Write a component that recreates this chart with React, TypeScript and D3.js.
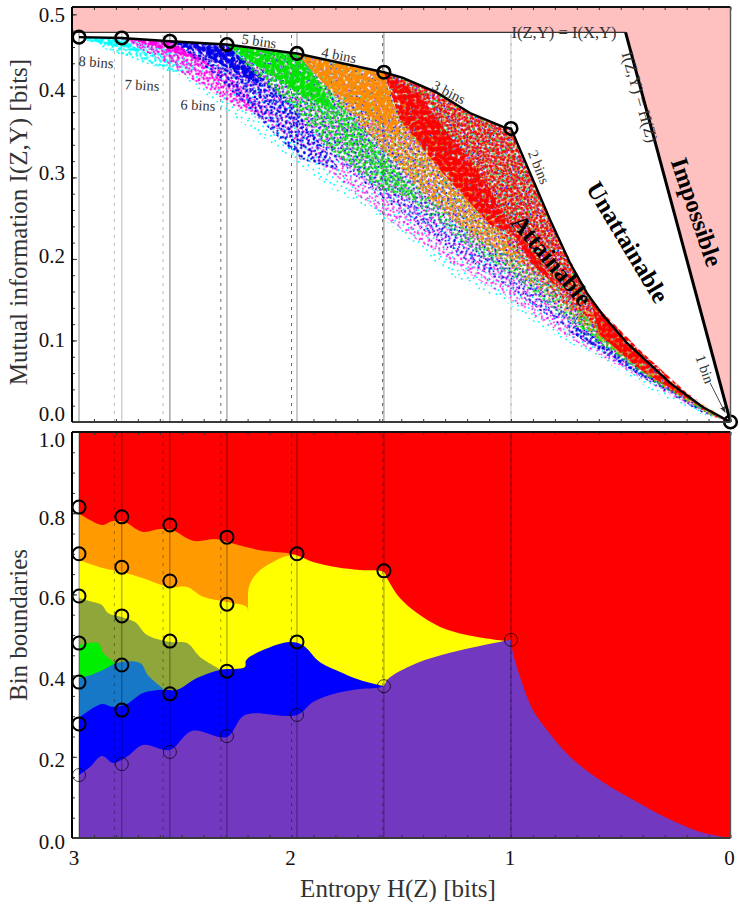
import { useEffect, useRef } from "react";
import * as d3 from "d3";

type Pt = [number, number];

// entropy of the optimal points for 8..2 bins
const binEntropy = [2.968, 2.773, 2.554, 2.294, 1.975, 1.579, 1.0];
const logBins = [2.807, 2.585, 2.322, 2.0, 1.585, 1.0];

// upper envelope of the attainable region [H, I]
const envelope: Pt[] = [
  [2.968, 0.472], [2.773, 0.471], [2.554, 0.467], [2.294, 0.463], [1.975, 0.452],
  [1.579, 0.429], [1.492, 0.422], [1.337, 0.404], [1.187, 0.379], [1.036, 0.362], [1.0, 0.36],
  [0.822, 0.248], [0.731, 0.195], [0.654, 0.158], [0.581, 0.131], [0.472, 0.097], [0.276, 0.048],
  [0.125, 0.018], [0, 0],
];
const optimalPoints: Pt[] = [
  [2.968, 0.472], [2.773, 0.471], [2.554, 0.467], [2.294, 0.463], [1.975, 0.452],
  [1.579, 0.429], [1.0, 0.36], [0, 0],
];
const ceilingI = 0.478;

// lower edge of each bin count's cloud [H, I]
const cyanLower: Pt[] = [
  [2.968, 0.472], [2.872, 0.459], [2.749, 0.447], [2.645, 0.438], [2.522, 0.428], [2.417, 0.405],
  [2.294, 0.379], [2.144, 0.352], [1.993, 0.321], [1.811, 0.285], [1.642, 0.26], [1.551, 0.242],
  [1.446, 0.22], [1.278, 0.18], [1.141, 0.162], [1.036, 0.15], [0.913, 0.125], [0.763, 0.101],
  [0.608, 0.08], [0.458, 0.055], [0.308, 0.031], [0.125, 0.009], [0, 0],
];
const magentaLower: Pt[] = [
  [2.773, 0.469], [2.554, 0.447], [2.294, 0.401], [1.993, 0.346], [1.733, 0.285], [1.506, 0.238],
  [1.278, 0.196], [1.036, 0.156], [0.763, 0.107], [0.458, 0.061], [0.139, 0.012], [0, 0],
];
const blueLower: Pt[] = [
  [2.554, 0.466], [2.294, 0.429], [1.993, 0.368], [1.733, 0.307], [1.506, 0.258], [1.278, 0.211],
  [1.005, 0.164], [0.731, 0.11], [0.412, 0.056], [0.139, 0.013], [0, 0],
];
const greenLower: Pt[] = [
  [2.294, 0.461], [1.993, 0.41], [1.733, 0.34], [1.506, 0.282], [1.187, 0.213], [0.959, 0.172],
  [0.686, 0.113], [0.367, 0.052], [0.116, 0.011], [0, 0],
];
const orangeLower: Pt[] = [
  [1.975, 0.45], [1.779, 0.395], [1.579, 0.334], [1.369, 0.272], [1.141, 0.217], [0.868, 0.16],
  [0.595, 0.101], [0.321, 0.045], [0.094, 0.009], [0, 0],
];
const redLower: Pt[] = [
  [1.579, 0.429], [1.415, 0.358], [1.187, 0.272], [0.959, 0.199], [0.731, 0.137], [0.503, 0.086],
  [0.276, 0.039], [0.084, 0.007], [0, 0],
];

// moderately filled parts of each cloud
const cyanMid: Pt[] = [[2.968, 0.472], [2.773, 0.471], [2.554, 0.456], [2.417, 0.432], [2.554, 0.429], [2.736, 0.448], [2.872, 0.46]];
const magentaMid: Pt[] = [[2.773, 0.471], [2.554, 0.467], [2.294, 0.426], [2.098, 0.377], [2.235, 0.383], [2.417, 0.414], [2.577, 0.442], [2.713, 0.461]];
const blueMid: Pt[] = [[2.554, 0.467], [2.294, 0.463], [2.053, 0.407], [1.779, 0.309], [1.961, 0.322], [2.144, 0.371], [2.349, 0.426], [2.463, 0.45]];
const greenMid: Pt[] = [[2.294, 0.463], [1.975, 0.452], [1.733, 0.377], [1.415, 0.272], [1.597, 0.285], [1.825, 0.334], [2.03, 0.395], [2.189, 0.432]];
const orangeMid: Pt[] = [[1.975, 0.452], [1.579, 0.429], [1.323, 0.334], [0.913, 0.187], [1.141, 0.223], [1.415, 0.285], [1.688, 0.364], [1.847, 0.413]];
const redMid: Pt[] = [
  [1.579, 0.429], [1.492, 0.422], [1.337, 0.404], [1.187, 0.379], [1.036, 0.362], [1.0, 0.36],
  [0.822, 0.248], [0.654, 0.158], [0.472, 0.097], [0.276, 0.048], [0, 0], [0.184, 0.033],
  [0.412, 0.076], [0.64, 0.125], [0.868, 0.187], [1.096, 0.254], [1.323, 0.314], [1.506, 0.371],
];
// the narrow run into the 1 bin point, where all colours pile up
const blueTail: Pt[] = [[0.7, 0.12], [0.45, 0.07], [0.2, 0.03], [0, 0], [0.14, 0.014], [0.41, 0.056], [0.73, 0.11]];
const greenTail: Pt[] = [[0.7, 0.14], [0.45, 0.08], [0.2, 0.03], [0, 0], [0.116, 0.012], [0.367, 0.054], [0.686, 0.115]];
const orangeTail: Pt[] = [[0.7, 0.15], [0.45, 0.09], [0.2, 0.035], [0, 0], [0.094, 0.01], [0.32, 0.047], [0.595, 0.103]];

// densely filled parts of each cloud
const cyanCore: Pt[] = [[2.968, 0.472], [2.773, 0.471], [2.713, 0.46], [2.645, 0.45], [2.749, 0.457], [2.872, 0.465]];
const magentaCore: Pt[] = [[2.773, 0.471], [2.554, 0.467], [2.417, 0.447], [2.349, 0.434], [2.463, 0.447], [2.645, 0.462]];
const blueCore: Pt[] = [[2.554, 0.467], [2.294, 0.463], [2.189, 0.436], [2.121, 0.413], [2.235, 0.425], [2.395, 0.45]];
const greenCore: Pt[] = [[2.294, 0.463], [1.975, 0.452], [1.87, 0.413], [1.802, 0.383], [1.961, 0.401], [2.144, 0.434]];
const orangeCore: Pt[] = [[1.975, 0.452], [1.579, 0.429], [1.529, 0.377], [1.506, 0.352], [1.688, 0.383], [1.847, 0.413]];
const redCore: Pt[] = [
  [1.579, 0.429], [1.415, 0.401], [1.301, 0.358], [1.187, 0.321], [1.096, 0.285], [0.913, 0.196],
  [0.777, 0.162], [0.959, 0.229], [1.096, 0.242], [1.323, 0.309], [1.506, 0.371],
];
const redTail: Pt[] = [
  [0.64, 0.15], [0.412, 0.088], [0.139, 0.021], [0.007, 0.001], [0.185, 0.027], [0.412, 0.064], [0.595, 0.107],
];

// bin boundary curves in the lower panel [H, b]
const orangeTop: Pt[] = [
  [2.968, 0.8], [2.918, 0.783], [2.864, 0.771], [2.813, 0.781], [2.759, 0.778], [2.677, 0.754],
  [2.599, 0.761], [2.545, 0.759], [2.449, 0.732], [2.339, 0.736], [2.28, 0.727], [2.144, 0.709],
  [2.02, 0.702], [1.975, 0.697],
];
const yellowTop: Pt[] = [
  [2.968, 0.685], [2.859, 0.665], [2.773, 0.655], [2.677, 0.64], [2.554, 0.618], [2.476, 0.618],
  [2.403, 0.594], [2.294, 0.581], [2.203, 0.569], [2.198, 0.557], [2.194, 0.618], [2.157, 0.653],
  [2.084, 0.68], [1.993, 0.697], [1.902, 0.68], [1.793, 0.667], [1.688, 0.66], [1.579, 0.655],
  [1.565, 0.64], [1.506, 0.591], [1.428, 0.554], [1.323, 0.52], [1.2, 0.5], [1.018, 0.485], [1.0, 0.485],
];
const oliveTop: Pt[] = [
  [2.968, 0.591], [2.904, 0.581], [2.864, 0.574], [2.836, 0.554], [2.773, 0.544], [2.713, 0.532],
  [2.658, 0.5], [2.554, 0.483], [2.476, 0.48], [2.417, 0.446], [2.326, 0.416],
];
const greenTop: Pt[] = [[2.968, 0.475], [2.881, 0.48], [2.859, 0.456], [2.804, 0.431]];
const steelTop: Pt[] = [
  [2.968, 0.394], [2.918, 0.401], [2.859, 0.414], [2.795, 0.431], [2.69, 0.431], [2.654, 0.401], [2.586, 0.369],
];
const blueTop: Pt[] = [
  [2.968, 0.296], [2.864, 0.33], [2.813, 0.323], [2.75, 0.33], [2.677, 0.357], [2.586, 0.365],
  [2.522, 0.365], [2.431, 0.394], [2.326, 0.414], [2.212, 0.421], [2.207, 0.438], [2.13, 0.463],
  [2.007, 0.483], [1.948, 0.475], [1.87, 0.433], [1.765, 0.406], [1.688, 0.389], [1.579, 0.374],
];
const purpleTop: Pt[] = [
  [2.968, 0.155], [2.918, 0.175], [2.864, 0.202], [2.813, 0.185], [2.75, 0.2], [2.677, 0.229],
  [2.554, 0.217], [2.453, 0.264], [2.294, 0.249], [2.212, 0.303], [1.975, 0.303], [1.902, 0.335],
  [1.793, 0.357], [1.688, 0.367], [1.583, 0.374], [1.565, 0.389], [1.538, 0.401], [1.428, 0.431],
  [1.278, 0.456], [1.127, 0.475], [1.0, 0.488],
];
const purpleRight: Pt[] = [
  [1.0, 0.488], [0.991, 0.456], [0.959, 0.397], [0.9, 0.315],
  [0.836, 0.266], [0.731, 0.2], [0.595, 0.143], [0.444, 0.094], [0.289, 0.049], [0.139, 0.015], [0, 0],
];

// boundary values at the optimum for 8..2 bins
const boundaryCircles: number[][] = [
  [0.815, 0.7, 0.596, 0.48, 0.384, 0.281, 0.155],
  [0.791, 0.667, 0.547, 0.426, 0.315, 0.182],
  [0.771, 0.633, 0.485, 0.355, 0.212],
  [0.741, 0.576, 0.411, 0.251],
  [0.7, 0.483, 0.303],
  [0.658, 0.374],
  [0.488],
];

const topTickLabels = [0.5, 0.4, 0.3, 0.2, 0.1, 0.0];
const bottomTickLabels = [1.0, 0.8, 0.6, 0.4, 0.2, 0.0];
const xTickLabels = [3, 2, 1, 0];

// hand placed speckle texture for the scatter cloud
const speckle: Pt[] = [
  [1.3, 2.7], [7.9, 0.6], [11.2, 5.8], [18.6, 1.9], [23.1, 6.4], [29.7, 0.8], [36.4, 4.1], [3.8, 9.2],
  [9.4, 12.7], [14.9, 8.3], [20.2, 13.9], [26.8, 10.1], [33.3, 9.6], [38.7, 13.2], [0.9, 16.8], [6.1, 19.4],
  [12.7, 17.2], [17.3, 21.6], [24.4, 18.3], [30.9, 15.7], [35.2, 20.8], [3.2, 25.3], [8.8, 27.9], [14.1, 24.7],
  [21.5, 26.2], [27.6, 23.4], [32.4, 27.1], [38.1, 25.6], [5.7, 32.8], [11.9, 33.9], [17.8, 30.6], [24.9, 33.2],
  [29.2, 30.4], [35.8, 33.7], [1.6, 37.4], [9.1, 38.6], [15.3, 37.1], [21.7, 38.9], [27.8, 37.8], [33.6, 38.2],
  [16.4, 14.2], [5.2, 4.9], [28.3, 5.2], [39.2, 8.4], [22.6, 22.1], [10.3, 22.8], [34.2, 14.9], [2.4, 31.1],
  [19.1, 34.6], [37.6, 30.1], [13.6, 1.1], [31.7, 22.3], [25.4, 14.6], [7.3, 14.4], [18.4, 10.2], [39.5, 18.9],
  [12.2, 29.4], [4.5, 21.9], [26.1, 28.5], [36.9, 37.2],
];

export default function App() {
  const svgRef = useRef<SVGSVGElement>(null);

  useEffect(() => {
    if (!svgRef.current) return;
    const svg = d3.select(svgRef.current);
    svg.selectAll("*").remove();

    const font = "'Liberation Serif', serif";
    const left = 72;
    const right = 730.5;
    const x = d3.scaleLinear().domain([3, 0]).range([left, right]);
    const yTop = d3.scaleLinear().domain([0, 0.509]).range([422, 7]);
    const yBot = d3.scaleLinear().domain([0, 1]).range([838, 432]);

    const defs = svg.append("defs");
    const makePattern = (id: string, color: string, angle: number, r: number) => {
      const p = defs
        .append("pattern")
        .attr("id", id)
        .attr("patternUnits", "userSpaceOnUse")
        .attr("width", 40)
        .attr("height", 40)
        .attr("patternTransform", `rotate(${angle})`);
      p.selectAll("circle")
        .data(speckle)
        .join("circle")
        .attr("cx", (d) => d[0])
        .attr("cy", (d) => d[1])
        .attr("r", r)
        .attr("fill", color);
    };

    const arrow = defs
      .append("marker")
      .attr("id", "arrow")
      .attr("viewBox", "0 0 10 10")
      .attr("refX", 9)
      .attr("refY", 5)
      .attr("markerWidth", 7)
      .attr("markerHeight", 7)
      .attr("orient", "auto");
    arrow.append("path").attr("d", "M0,1L10,5L0,9Z").attr("fill", "#333");

    // top panel
    const top = svg.append("g");
    const poly = d3
      .line<Pt>()
      .x((d) => x(d[0]))
      .y((d) => yTop(d[1]));

    top
      .append("path")
      .attr("fill", "#ffc0c0")
      .attr(
        "d",
        poly([[3, 0.509], [0, 0.509], [0, 0], [ceilingI, ceilingI], [3, ceilingI]]) + "Z"
      );

    // bin count guide lines
    const solidGrey = ["#8a8a8a", "#bbbbbb", "#777777", "#888888", "#999999", "#888888", "#cccccc"];
    top
      .selectAll(".solid")
      .data(binEntropy)
      .join("line")
      .attr("x1", (d) => x(d))
      .attr("x2", (d) => x(d))
      .attr("y1", yTop(0))
      .attr("y2", yTop(ceilingI))
      .attr("stroke", (_, i) => solidGrey[i])
      .attr("stroke-width", 1);
    const dashGrey = ["#bbbbbb", "#bbbbbb", "#666666", "#666666", "#666666", "#bbbbbb"];
    top
      .selectAll(".dash")
      .data(logBins)
      .join("line")
      .attr("x1", (d) => x(d))
      .attr("x2", (d) => x(d))
      .attr("y1", yTop(0))
      .attr("y2", yTop(ceilingI))
      .attr("stroke", (_, i) => dashGrey[i])
      .attr("stroke-width", 1)
      .attr("stroke-dasharray", "3,5");

    // scatter cloud, low entropy colours on top
    const clouds: { id: string; color: string; angle: number; start: number; lower: Pt[]; mid: Pt[][]; core: Pt[][] }[] = [
      { id: "cy", color: "#00ffff", angle: 0, start: 2.968, lower: cyanLower, mid: [cyanMid], core: [cyanCore] },
      { id: "ma", color: "#ff00e6", angle: 37, start: 2.773, lower: magentaLower, mid: [magentaMid], core: [magentaCore] },
      { id: "bl", color: "#0000e6", angle: 71, start: 2.554, lower: blueLower, mid: [blueMid, blueTail], core: [blueCore] },
      { id: "gr", color: "#00e600", angle: 113, start: 2.294, lower: greenLower, mid: [greenMid, greenTail], core: [greenCore] },
      { id: "or", color: "#ff8c00", angle: 151, start: 1.975, lower: orangeLower, mid: [orangeMid, orangeTail], core: [orangeCore] },
      { id: "re", color: "#ff0000", angle: 199, start: 1.579, lower: redLower, mid: [redMid], core: [redCore, redTail] },
    ];
    clouds.forEach((c, i) => {
      makePattern(c.id, c.color, c.angle, 0.95);
      makePattern(`${c.id}s`, c.color, c.angle + 61, 0.95);
      makePattern(`${c.id}m`, c.color, c.angle + 23, 1.2);
      makePattern(`${c.id}n`, c.color, c.angle + 83, 1.2);
      makePattern(`${c.id}c`, c.color, c.angle + 47, 2.6);
      const upper = envelope.filter((d) => d[0] <= c.start);
      const shape = poly([...upper, ...[...c.lower].reverse()]) + "Z";
      top.append("path").attr("fill", `url(#${c.id})`).attr("d", shape);
      // the cyan fringe stays thin, the inner colours get a second pass
      if (i > 0) top.append("path").attr("fill", `url(#${c.id}s)`).attr("d", shape);
      c.mid.forEach((k) => {
        top.append("path").attr("fill", `url(#${c.id}m)`).attr("d", poly(k) + "Z");
        top.append("path").attr("fill", `url(#${c.id}n)`).attr("d", poly(k) + "Z");
      });
      c.core.forEach((k) => {
        top.append("path").attr("fill", `url(#${c.id}c)`).attr("d", poly(k) + "Z");
      });
    });

    // limits
    top
      .append("path")
      .attr("fill", "none")
      .attr("stroke", "#000")
      .attr("stroke-width", 2.4)
      .attr("d", poly(envelope));
    top
      .append("path")
      .attr("fill", "none")
      .attr("stroke", "#333")
      .attr("stroke-width", 1.2)
      .attr("d", poly([[3, ceilingI], [ceilingI, ceilingI]]));
    top
      .append("path")
      .attr("fill", "none")
      .attr("stroke", "#000")
      .attr("stroke-width", 3)
      .attr("d", poly([[ceilingI, ceilingI], [0, 0]]));

    top
      .selectAll(".opt")
      .data(optimalPoints)
      .join("circle")
      .attr("cx", (d) => x(d[0]))
      .attr("cy", (d) => yTop(d[1]))
      .attr("r", 6.3)
      .attr("fill", "none")
      .attr("stroke", "#000")
      .attr("stroke-width", 2.6);

    top
      .append("path")
      .attr("fill", "none")
      .attr("stroke", "#333")
      .attr("stroke-width", 0.9)
      .attr("marker-end", "url(#arrow)")
      .attr("d", poly([[0.093, 0.048], [0.025, 0.012]]));

    // bottom panel
    const bot = svg.append("g");
    const clipEnd = binEntropy[0];
    bot
      .append("rect")
      .attr("x", x(clipEnd))
      .attr("y", yBot(1))
      .attr("width", x(0) - x(clipEnd))
      .attr("height", yBot(0) - yBot(1))
      .attr("fill", "#ff0000");
    const region = d3
      .area<Pt>()
      .x((d) => x(d[0]))
      .y0(yBot(0))
      .y1((d) => yBot(d[1]))
      .curve(d3.curveCatmullRom.alpha(0.5));
    const regions: [Pt[], string][] = [
      [orangeTop, "#ff9a00"],
      [yellowTop, "#ffff00"],
      [oliveTop, "#8fa63a"],
      [greenTop, "#00ee00"],
      [steelTop, "#1878c8"],
      [blueTop, "#0000ff"],
      [purpleTop, "#7238c0"],
      [purpleRight, "#7238c0"],
    ];
    regions.forEach(([pts, color]) => {
      bot.append("path").attr("fill", color).attr("d", region(pts));
    });

    bot
      .selectAll(".solid")
      .data(binEntropy)
      .join("line")
      .attr("x1", (d) => x(d))
      .attr("x2", (d) => x(d))
      .attr("y1", yBot(0))
      .attr("y2", yBot(1))
      .attr("stroke", "#000")
      .attr("stroke-opacity", 0.45)
      .attr("stroke-width", 0.9);
    bot
      .selectAll(".dash")
      .data(logBins)
      .join("line")
      .attr("x1", (d) => x(d))
      .attr("x2", (d) => x(d))
      .attr("y1", yBot(0))
      .attr("y2", yBot(1))
      .attr("stroke", "#000")
      .attr("stroke-opacity", 0.4)
      .attr("stroke-width", 0.9)
      .attr("stroke-dasharray", "3,5");

    boundaryCircles.forEach((col, i) => {
      bot
        .selectAll(`.c${i}`)
        .data(col)
        .join("circle")
        .attr("cx", x(binEntropy[i]))
        .attr("cy", (d) => yBot(d))
        .attr("r", 6.5)
        .attr("fill", "none")
        .attr("stroke", "#000")
        .attr("stroke-opacity", (_, j) => (j === col.length - 1 ? 0.7 : 1))
        .attr("stroke-width", (_, j) => (j === col.length - 1 ? 1 : 2));
    });

    // frames and ticks
    const xMinor = d3.range(0, 31).map((d) => d / 10);
    const drawTicks = (
      g: d3.Selection<SVGGElement, unknown, null, undefined>,
      y: d3.ScaleLinear<number, number>,
      yMinor: number[],
      yMajor: number[]
    ) => {
      const tickColor = "#333";
      const [y0, y1] = [y.range()[0], y.range()[1]];
      g.append("g")
        .attr("transform", `translate(${left},0)`)
        .call(d3.axisRight(y).tickValues(yMinor).tickSize(3).tickFormat(() => ""))
        .call((s) => s.select(".domain").remove())
        .selectAll("line")
        .attr("stroke", tickColor);
      g.append("g")
        .attr("transform", `translate(${left},0)`)
        .call(d3.axisRight(y).tickValues(yMajor).tickSize(5).tickFormat(() => ""))
        .call((s) => s.select(".domain").remove())
        .selectAll("line")
        .attr("stroke", tickColor);
      g.append("g")
        .attr("transform", `translate(0,${y0})`)
        .call(d3.axisTop(x).tickValues(xMinor).tickSize(3).tickFormat(() => ""))
        .call((s) => s.select(".domain").remove())
        .selectAll("line")
        .attr("stroke", tickColor);
      g.append("g")
        .attr("transform", `translate(0,${y1})`)
        .call(d3.axisBottom(x).tickValues(xMinor).tickSize(3).tickFormat(() => ""))
        .call((s) => s.select(".domain").remove())
        .selectAll("line")
        .attr("stroke", tickColor);
      const edge = (x1: number, y1a: number, x2: number, y2: number, c: string, w: number) =>
        g
          .append("line")
          .attr("x1", x1)
          .attr("y1", y1a)
          .attr("x2", x2)
          .attr("y2", y2)
          .attr("stroke", c)
          .attr("stroke-width", w);
      edge(left, y0, right, y0, "#3a3a3a", 2);
      edge(left, y1, right, y1, "#111", 2);
      edge(left, y0, left, y1, "#000", 2);
      edge(right, y0, right, y1, "#555", 1.4);
    };
    drawTicks(
      svg.append("g"),
      yTop,
      d3.range(0, 26).map((d) => d / 50),
      topTickLabels
    );
    drawTicks(
      svg.append("g"),
      yBot,
      d3.range(0, 21).map((d) => d / 20),
      bottomTickLabels
    );

    // tick labels
    const tick = (px: number, py: number, s: string, anchor: string) =>
      svg
        .append("text")
        .attr("x", px)
        .attr("y", py)
        .attr("dy", "0.35em")
        .attr("text-anchor", anchor)
        .attr("font-family", font)
        .attr("font-size", 21)
        .attr("fill", "#111")
        .text(s);
    const topNudge = [0, -6, -5, -3, -1, -8];
    topTickLabels.forEach((d, i) => tick(65, yTop(d) + topNudge[i], d.toFixed(1), "end"));
    const botNudge = [8, 4, 3, 3, 3, 4];
    bottomTickLabels.forEach((d, i) => tick(65, yBot(d) + botNudge[i], d.toFixed(1), "end"));
    xTickLabels.forEach((d) => tick(d === 3 ? x(d) + 2 : x(d) - 1, 858, String(d), "middle"));

    // titles
    const title = (px: number, py: number, s: string, rot: number) =>
      svg
        .append("text")
        .attr("transform", `translate(${px},${py}) rotate(${rot})`)
        .attr("text-anchor", "middle")
        .attr("font-family", font)
        .attr("font-size", 25)
        .attr("fill", "#333")
        .text(s);
    title(27, 222, "Mutual information I(Z,Y) [bits]", -90);
    title(27, 625, "Bin boundaries", -90);
    title(398, 897, "Entropy H(Z) [bits]", 0);

    // annotations
    const note = (
      px: number,
      py: number,
      s: string,
      rot: number,
      size: number,
      bold = false,
      fill = "#333"
    ) =>
      svg
        .append("text")
        .attr("transform", `translate(${px},${py}) rotate(${rot})`)
        .attr("text-anchor", "middle")
        .attr("dy", "0.35em")
        .attr("font-family", font)
        .attr("font-size", size)
        .attr("font-weight", bold ? "bold" : "normal")
        .attr("fill", fill)
        .text(s);
    note(96, 62, "8 bins", 4, 14.5);
    note(142, 85, "7 bins", 3, 14.5);
    note(198, 105, "6 bins", 3, 14.5);
    note(259, 41, "5 bins", 8, 14.5);
    note(339, 55, "4 bins", 11, 14.5);
    note(449, 92, "3 bins", 27, 14.5);
    note(539, 167, "2 bins", 68, 14.5);
    note(705, 369, "1 bin", 70, 14.5);
    note(564, 32, "I(Z,Y) = I(X,Y)", 0, 16.6);
    note(640, 97, "I(Z,Y) = H(Z)", 74, 16.6);
    note(552, 260, "Attainable", 50, 24.5, true, "#000");
    note(628, 242, "Unattainable", 59, 24.5, true, "#000");
    note(697, 212, "Impossible", 71, 24.5, true, "#000");
  }, []);

  return (
    <svg
      ref={svgRef}
      width={740}
      height={910}
      viewBox="0 0 740 910"
      style={{ position: "absolute", left: 0, top: 0, background: "#fff" }}
    />
  );
}
